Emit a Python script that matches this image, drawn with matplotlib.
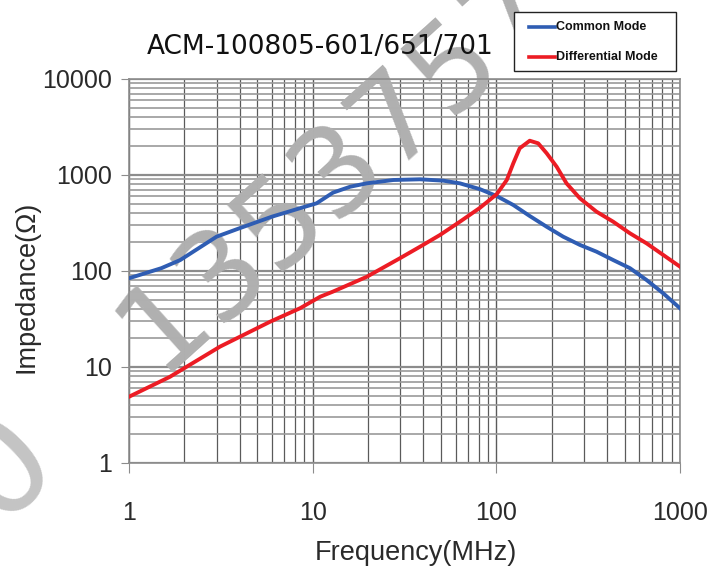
import numpy as np
import matplotlib
matplotlib.use('Agg')
import matplotlib.pyplot as plt
from matplotlib.patches import Rectangle
from matplotlib.lines import Line2D

# data (frequency in MHz, impedance in ohm)
cm_freq = [1.0, 1.5, 1.9, 3.0, 4.0, 6.0, 8.5, 10.5, 12.9, 16, 19.7, 27.5, 38.4, 51.4,
           63.3, 81.4, 100.4, 123.7, 152, 188, 231, 285, 351, 433, 534, 658, 810, 1000]
cm_imp = [84, 107, 130, 228, 279, 368, 450, 507, 655, 755, 819, 887, 902, 873,
          819, 712, 604, 487, 374, 289, 228, 187, 159, 130, 107, 80.5, 58.6, 40.9]

dm_freq = [1.0, 1.67, 3.13, 5.86, 8.53, 11, 12.9, 19.7, 29.9, 38.4, 49.3, 63.3, 81.4,
           96.2, 100.4, 114, 123.7, 134, 152, 169, 188, 213, 241, 285, 351, 433, 534,
           658, 810, 1000]
dm_imp = [4.9, 7.9, 16.3, 29.6, 40.9, 54, 61, 87, 136, 179, 237, 326, 455,
          590, 630, 887, 1324, 1897, 2275, 2138, 1683, 1220, 819, 572, 415, 326, 247,
          194, 147, 111]

x_ticks = [1, 10, 100, 1000]
y_ticks = [1, 10, 100, 1000, 10000]
title = 'ACM-100805-601/651/701'
series_names = ['Common Mode', 'Differential Mode']
series_colors = ['#2f5db3', '#ec1c24']
watermark = '1353757'

plt.rcParams['font.family'] = ['Liberation Sans', 'DejaVu Sans']

W, H = 719, 572
fig = plt.figure(figsize=(W / 100, H / 100), dpi=100)
ax = fig.add_axes([129 / W, 1 - 463 / H, 551 / W, 384 / H])

ax.set_xscale('log')
ax.set_yscale('log')
ax.set_xlim(1, 1000)
ax.set_ylim(1, 10000)
ax.set_facecolor('none')

ax.grid(True, which='major', axis='x', color='#5a5a5a', lw=1.0)
ax.grid(True, which='minor', axis='x', color='#5a5a5a', lw=0.9)
ax.grid(True, which='major', axis='y', color='#8c8c8c', lw=1.6)
ax.grid(True, which='minor', axis='y', color='#9a9a9a', lw=1.2)
ax.set_axisbelow(True)

# watermark (over the grid, under the curves)
ax.text(158 / W, 1 - 374 / H, watermark, transform=fig.transFigure, rotation=42,
        rotation_mode='anchor', ha='left', va='baseline', fontsize=88,
        family='DejaVu Sans', color='#b0b0b0', zorder=2.5, clip_on=False)
ax.text(2 / W, 1 - 466 / H, '0', transform=fig.transFigure, rotation=45,
        ha='center', va='center', fontsize=100, family='DejaVu Sans',
        color='#c4c4c4', zorder=2.5, clip_on=False)

ax.plot(cm_freq, cm_imp, color=series_colors[0], lw=2.8, zorder=3)
ax.plot(dm_freq, dm_imp, color=series_colors[1], lw=2.8, zorder=4)

for s in ax.spines.values():
    s.set_color('#8c8c8c')
    s.set_linewidth(1.2)

ax.set_xticks(x_ticks)
ax.set_xticklabels([str(v) for v in x_ticks])
ax.set_yticks(y_ticks)
ax.set_yticklabels([str(v) for v in y_ticks])
ax.tick_params(axis='x', which='major', length=7, color='#8c8c8c', pad=20,
               labelsize=18, labelcolor='#2a2a2a')
ax.tick_params(axis='y', which='major', length=6, color='#8c8c8c', pad=6,
               labelsize=18, labelcolor='#2a2a2a')
ax.tick_params(which='minor', length=0)

fig.text(27 / W, 1 - 287 / H, 'Impedance(\u03a9)', rotation=90, ha='center', va='center',
         fontsize=19.5, color='#2a2a2a')
fig.text(416 / W, 1 - 553 / H, 'Frequency(MHz)', ha='center', va='center',
         fontsize=19.5, color='#2a2a2a')
fig.text(320 / W, 1 - 47 / H, title, ha='center', va='center',
         fontsize=19, color='#111111', family='DejaVu Sans')

# legend box above the plot, top right
fig.add_artist(Rectangle((514 / W, 1 - 71 / H), 162 / W, 59 / H, transform=fig.transFigure,
                         facecolor='white', edgecolor='#222222', lw=1.0, zorder=5))
for i, (name, col) in enumerate(zip(series_names, series_colors)):
    yy = 1 - (27 + 30 * i) / H
    fig.add_artist(Line2D([529 / W, 555 / W], [yy, yy], transform=fig.transFigure,
                          color=col, lw=2.6, zorder=6))
    fig.text(556 / W, yy, name, ha='left', va='center', fontsize=9, weight='bold',
             color='#111111', zorder=6)

fig.savefig('out.png', dpi=100)
